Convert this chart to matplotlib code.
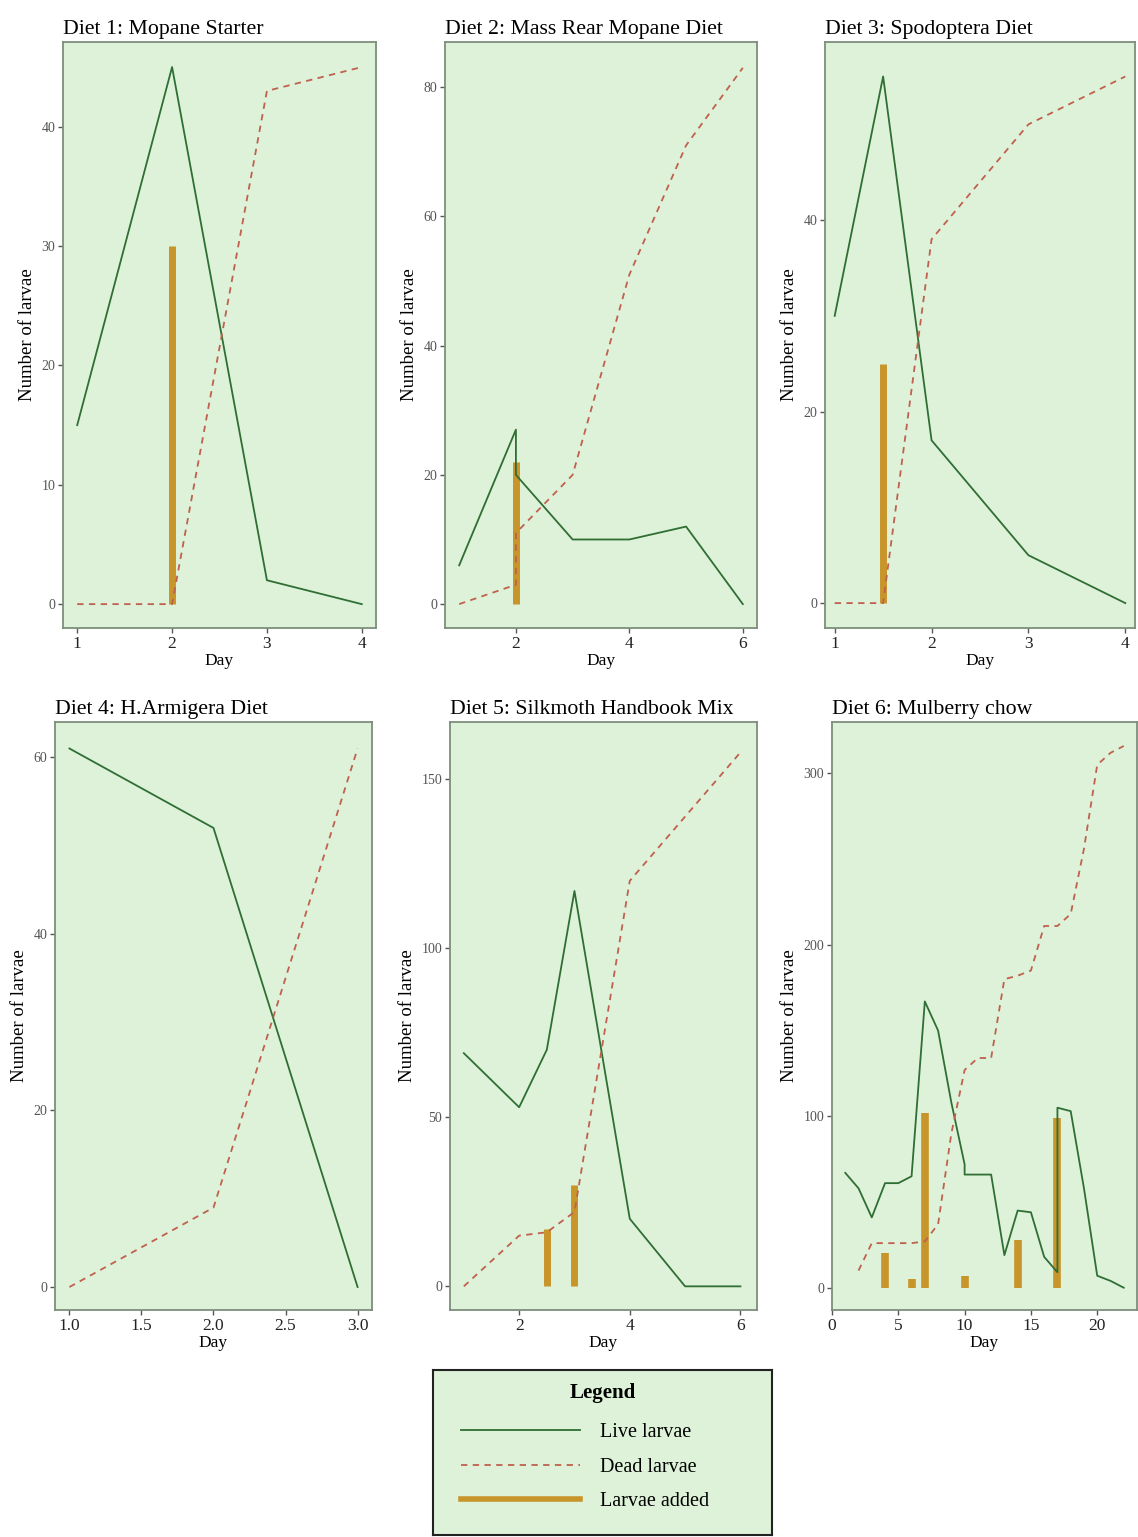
import matplotlib
matplotlib.use("Agg")
import matplotlib.pyplot as plt
from matplotlib.lines import Line2D

plt.rcParams['font.family'] = ['Liberation Serif', 'DejaVu Serif']

# ---------------- data ----------------
titles = ["Diet 1: Mopane Starter", "Diet 2: Mass Rear Mopane Diet", "Diet 3: Spodoptera Diet",
          "Diet 4: H.Armigera Diet", "Diet 5: Silkmoth Handbook Mix", "Diet 6: Mulberry chow"]

d1_live_x = [1, 2, 3, 4]
d1_live_y = [15, 45, 2, 0]
d1_dead_x = [1, 2, 3, 4]
d1_dead_y = [0, 0, 43, 45]
d1_add_x = [2]
d1_add_y = [30]

d2_live_x = [1, 2, 2, 3, 4, 5, 6]
d2_live_y = [6, 27, 20, 10, 10, 12, 0]
d2_dead_x = [1, 2, 2, 3, 4, 5, 6]
d2_dead_y = [0, 3, 11, 20, 51, 71, 83]
d2_add_x = [2]
d2_add_y = [22]

d3_live_x = [1, 1.5, 2, 3, 4]
d3_live_y = [30, 55, 17, 5, 0]
d3_dead_x = [1, 1.5, 2, 3, 4]
d3_dead_y = [0, 0, 38, 50, 55]
d3_add_x = [1.5]
d3_add_y = [25]

d4_live_x = [1, 2, 3]
d4_live_y = [61, 52, 0]
d4_dead_x = [1, 2, 3]
d4_dead_y = [0, 9, 61]
d4_add_x = []
d4_add_y = []

d5_live_x = [1, 2, 2.5, 3, 4, 5, 6]
d5_live_y = [69, 53, 70, 117, 20, 0, 0]
d5_dead_x = [1, 2, 2.5, 3, 4, 5, 6]
d5_dead_y = [0, 15, 16, 22, 120, 139, 158]
d5_add_x = [2.5, 3]
d5_add_y = [17, 30]

d6_live_x = [1, 2, 3, 4, 5, 6, 7, 8, 9, 10, 10, 11, 12, 13, 14, 15, 16, 17, 17, 18, 19, 20, 21, 22]
d6_live_y = [67, 58, 41, 61, 61, 65, 167, 150, 108, 72, 66, 66, 66, 19, 45, 44, 18, 9, 105, 103, 58, 7, 4, 0]
d6_dead_x = [2, 3, 4, 5, 6, 7, 8, 9, 10, 11, 12, 13, 14, 15, 16, 17, 18, 19, 20, 21, 22]
d6_dead_y = [10, 26, 26, 26, 26, 27, 37, 90, 127, 134, 134, 180, 182, 185, 211, 211, 218, 256, 305, 312, 316]
d6_add_x = [4, 6, 7, 10, 14, 17]
d6_add_y = [20, 5, 102, 7, 28, 99]

live_x = [d1_live_x, d2_live_x, d3_live_x, d4_live_x, d5_live_x, d6_live_x]
live_y = [d1_live_y, d2_live_y, d3_live_y, d4_live_y, d5_live_y, d6_live_y]
dead_x = [d1_dead_x, d2_dead_x, d3_dead_x, d4_dead_x, d5_dead_x, d6_dead_x]
dead_y = [d1_dead_y, d2_dead_y, d3_dead_y, d4_dead_y, d5_dead_y, d6_dead_y]
add_x = [d1_add_x, d2_add_x, d3_add_x, d4_add_x, d5_add_x, d6_add_x]
add_y = [d1_add_y, d2_add_y, d3_add_y, d4_add_y, d5_add_y, d6_add_y]

xticks = [[1, 2, 3, 4], [2, 4, 6], [1, 2, 3, 4], [1.0, 1.5, 2.0, 2.5, 3.0], [2, 4, 6], [0, 5, 10, 15, 20]]
xticklabels = [["1", "2", "3", "4"], ["2", "4", "6"], ["1", "2", "3", "4"],
               ["1.0", "1.5", "2.0", "2.5", "3.0"], ["2", "4", "6"], ["0", "5", "10", "15", "20"]]
yticks = [[0, 10, 20, 30, 40], [0, 20, 40, 60, 80], [0, 20, 40], [0, 20, 40, 60], [0, 50, 100, 150], [0, 100, 200, 300]]

legend_title = "Legend"
legend_labels = ["Live larvae", "Dead larvae", "Larvae added"]

# ---------------- style ----------------
W, H = 1138, 1537
BG = '#DDF2D8'
LIVE_C = '#2F6E34'
DEAD_C = '#C0604E'
ADD_C = '#C8952B'
FRAME_C = '#7C8F7C'

# axes boxes in pixels: left, right, top, bottom
boxes = [(63, 376, 42, 628), (445, 757, 42, 628), (825, 1135, 42, 628),
         (55, 372, 722, 1310), (450, 757, 722, 1310), (832, 1137, 722, 1310)]
xlims = [(0.85, 4.15), (0.75, 6.25), (0.9, 4.1), (0.9, 3.1), (0.75, 6.3), (0, 23)]
ylims = [(-2.0, 47.1), (-3.7, 87), (-2.6, 58.6), (-2.6, 64), (-7, 167), (-13, 330)]
add_w = [5, 5, 5, 5, 5, 5.5]

fig = plt.figure(figsize=(W / 100, H / 100), dpi=100)

for i in range(6):
    l, r, t, b = boxes[i]
    ax = fig.add_axes([l / W, 1 - b / H, (r - l) / W, (b - t) / H])
    ax.set_facecolor(BG)
    if add_x[i]:
        ax.vlines(add_x[i], 0, add_y[i], colors=ADD_C, linewidth=add_w[i], zorder=2)
    ax.plot(live_x[i], live_y[i], color=LIVE_C, linewidth=1.3, zorder=3)
    ax.plot(dead_x[i], dead_y[i], color=DEAD_C, linewidth=1.3, linestyle=(0, (3.5, 3)), zorder=3)
    ax.set_xlim(*xlims[i])
    ax.set_ylim(*ylims[i])
    ax.set_xticks(xticks[i])
    ax.set_xticklabels(xticklabels[i], fontsize=12.5, color='#222222')
    ax.set_yticks(yticks[i])
    ax.set_yticklabels([str(v) for v in yticks[i]], fontsize=10, color='#555555')
    ax.tick_params(axis='both', length=3.5, width=1, color='#555555', pad=2)
    for s in ax.spines.values():
        s.set_color(FRAME_C)
        s.set_linewidth(1.3)
    ax.set_xlabel("Day", fontsize=12.5, labelpad=1)
    ax.set_ylabel("Number of larvae", fontsize=13.5, labelpad=4)
    ax.set_title(titles[i], fontsize=15.7, loc='left', pad=6)

# legend
lx0, lx1, ly0, ly1 = 433, 772, 1370, 1535
lax = fig.add_axes([lx0 / W, 1 - ly1 / H, (lx1 - lx0) / W, (ly1 - ly0) / H])
lax.set_facecolor(BG)
lax.set_xticks([])
lax.set_yticks([])
for s in lax.spines.values():
    s.set_color('#222222')
    s.set_linewidth(1.5)
lax.text(0.5, 1 - (1393 - ly0) / (ly1 - ly0), legend_title, transform=lax.transAxes,
         ha='center', va='center', fontsize=15, fontweight='bold')
handles = [Line2D([], [], color=LIVE_C, linewidth=1.3),
           Line2D([], [], color=DEAD_C, linewidth=1.3, linestyle=(0, (3.5, 3))),
           Line2D([], [], color=ADD_C, linewidth=4)]
leg = lax.legend(handles, legend_labels, loc='center left', frameon=False,
                 bbox_to_anchor=(0.03, 1 - (1467 - ly0) / (ly1 - ly0)),
                 fontsize=14.5, handlelength=5.9, handletextpad=1.0, labelspacing=0.75)

fig.savefig("out.png", dpi=100)
